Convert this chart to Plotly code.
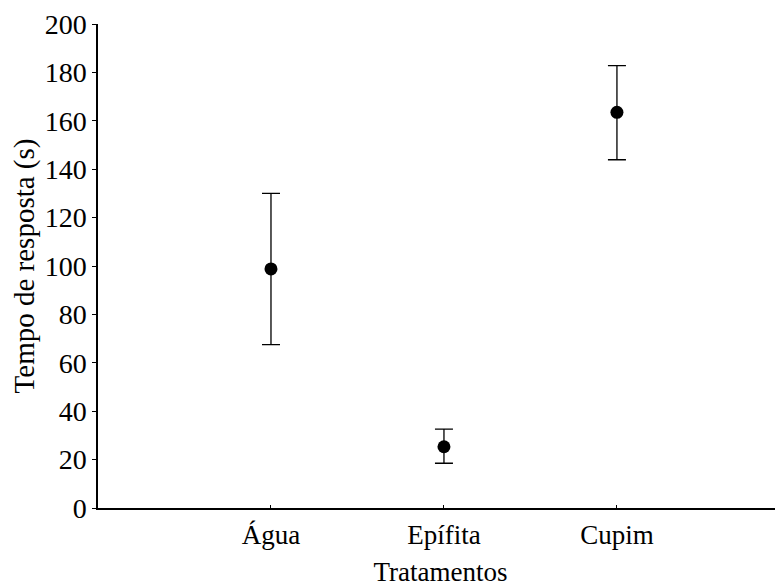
import plotly.graph_objects as go

categories = ["Água", "Epífita", "Cupim"]
means = [98.8, 25.3, 163.5]
upper = [130.0, 32.6, 182.8]
lower = [67.5, 18.5, 143.9]
y_ticks = [0, 20, 40, 60, 80, 100, 120, 140, 160, 180, 200]

err_plus = [u - m for u, m in zip(upper, means)]
err_minus = [m - l for m, l in zip(means, lower)]

FONT = "Liberation Serif"
OFF = 8  # page body margin

fig = go.Figure(go.Scatter(
    x=categories, y=means, mode="markers",
    marker=dict(color="black", size=13, symbol="circle"),
    error_y=dict(type="data", symmetric=False, array=err_plus, arrayminus=err_minus,
                 color="black", thickness=1.3, width=9),
    showlegend=False,
))

fig.update_layout(
    width=783 - OFF, height=587 - OFF,
    margin=dict(l=98 - OFF, r=0, t=24 - OFF, b=79),
    paper_bgcolor="white", plot_bgcolor="white",
    font=dict(family=FONT, size=27, color="black"),
)
fig.update_xaxes(
    type="category", range=[-1, 2.96], automargin=False,
    showline=True, linecolor="black", linewidth=1.5,
    ticks="inside", ticklen=3, tickcolor="black", tickwidth=1,
    ticklabelstandoff=2,
    showgrid=False, zeroline=False,
    title=dict(text="Tratamentos", font=dict(family=FONT, size=27), standoff=18),
    tickfont=dict(family=FONT, size=27),
)
fig.update_yaxes(
    range=[0, 200], tickvals=y_ticks, automargin=False,
    showline=True, linecolor="black", linewidth=1.5,
    ticks="outside", ticklen=4, tickcolor="black", tickwidth=1,
    showgrid=False, zeroline=False,
    title=dict(text="Tempo de resposta (s)", font=dict(family=FONT, size=29), standoff=8),
    tickfont=dict(family=FONT, size=28),
)

fig.write_html("out.html")
